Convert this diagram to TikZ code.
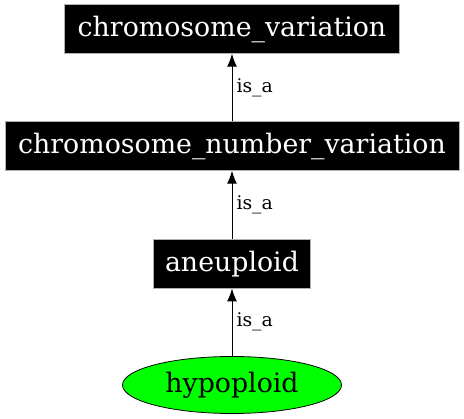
\documentclass[tikz,border=0pt]{standalone}
\usepackage{fontspec}
\setmainfont{DejaVu Serif}
\tikzset{
  term/.style={rectangle,fill=black,draw=gray!60,text=white,inner sep=0pt,
    minimum height=49pt,font=\fontsize{26.8}{30}\selectfont},
  leaf/.style={ellipse,fill=green,draw=black,line width=0.8pt,inner sep=0pt,
    minimum width=219pt,minimum height=57pt,font=\fontsize{26.8}{30}\selectfont},
  isa/.style={draw=black,line width=1pt,-{Latex[length=13pt,width=10pt]}},
  lbl/.style={right,font=\fontsize{18.8}{20}\selectfont,inner sep=4pt}
}
\usetikzlibrary{arrows.meta,shapes.geometric}
\begin{document}
\begin{tikzpicture}[x=1pt,y=1pt]
  \useasboundingbox (0,0) rectangle (464,-419);
  \node[term,minimum width=335pt](cv) at (232,-29){chromosome\_variation};
  \node[term,minimum width=454pt](cnv) at (232,-146){chromosome\_number\_variation};
  \node[term,minimum width=157pt](an) at (232,-263.8){aneuploid};
  \node[leaf](hy) at (232,-385){hypoploid};
  \draw[isa] (cnv.north) -- node[lbl]{is\_a} (cv.south);
  \draw[isa] (an.north) -- node[lbl]{is\_a} (cnv.south);
  \draw[isa] (hy.north) -- node[lbl]{is\_a} (an.south);
\end{tikzpicture}
\end{document}
